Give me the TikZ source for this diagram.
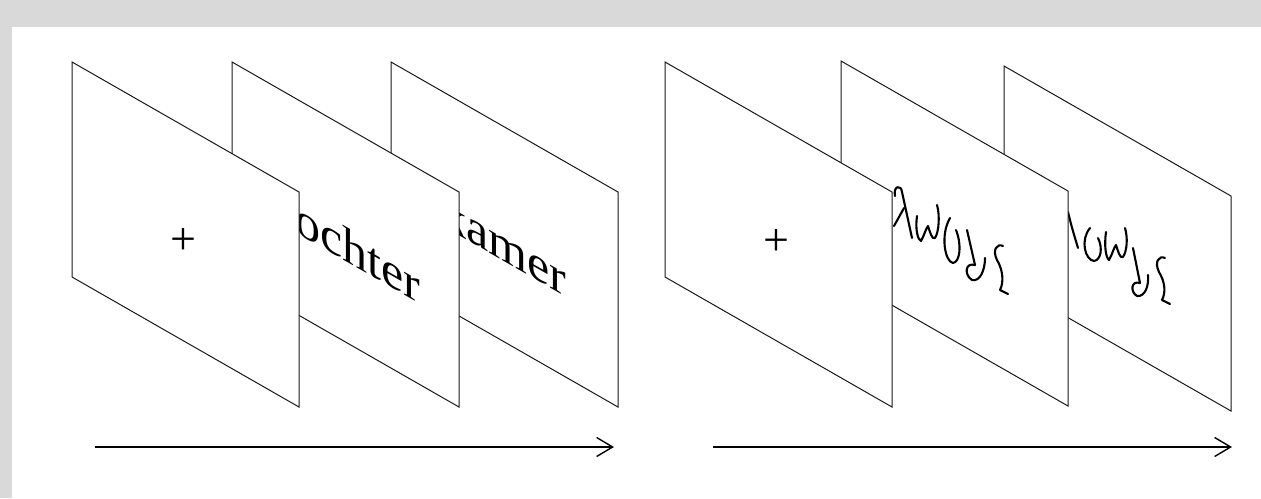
\documentclass[tikz,border=0pt]{standalone}
\usepackage{fontspec}
\setmainfont{Liberation Serif}
\usetikzlibrary{arrows.meta}
\newcommand\cardat[1]{\filldraw[card] (#1) -- ++(227,130) -- ++(0,215) -- ++(-227,-130) -- cycle;}
\begin{document}
\begin{tikzpicture}[x=1pt,y=-1pt,
  card/.style={draw=black!90,fill=white,line width=1pt,line join=miter},
  word/.style={font=\fontsize{50}{50}\selectfont,inner sep=0pt,yslant=-0.5727,transform shape},
  fix/.style={font=\fontsize{46}{46}\selectfont,inner sep=0pt},
  glyph/.style={line width=2.1pt,line cap=round,line join=round},
  arr/.style={line width=1.4pt,-{Straight Barb[length=16pt,width=19pt]}}]
\useasboundingbox (0,0) rectangle (1261,498);
\fill[black!15] (0,0) rectangle (1261,27);
\fill[black!15] (0,0) rectangle (12,498);
% left sequence
\cardat{391,62}
\node[word] (w3) at (504,244) {kamer};
\cardat{232,62}
\node[word] (w2) at (345.5,244) {dochter};
\cardat{72,62}
\node[fix] (p1) at (183,242) {+};
\coordinate (a1s) at (95,447);
\coordinate (a1e) at (614,447);
\draw[arr] (a1s) -- (a1e);
% right sequence
\cardat{1004,66}
\draw[glyph] (1068,212) .. controls (1072,228) .. (1078,248);
\draw[glyph] (1090,228) .. controls (1080,240) and (1085,260) .. (1094,261) .. controls (1101,260) and (1103,248) .. (1098,238);
\draw[glyph] (1106,232) .. controls (1104,246) and (1106,258) .. (1109,260) .. controls (1112,255) and (1114,247) .. (1116,245) .. controls (1118,251) and (1120,259) .. (1123,257) .. controls (1127,251) and (1128,238) .. (1125,228);
\draw[glyph] (1133,248) -- (1140,283);
\draw[glyph] (1140,283) .. controls (1131,280) and (1130,292) .. (1137,296) .. controls (1145,297) and (1149,286) .. (1148,275);
\draw[glyph] (1165,258) .. controls (1159,255) and (1154,262) .. (1159,272) .. controls (1165,282) and (1166,292) .. (1162,300) -- (1170,304);
\cardat{841,61}
\draw[glyph] (895,196) .. controls (893,186) and (901,184) .. (902,192) -- (912,238);
\draw[glyph] (904,208) -- (894,226);
\draw[glyph] (917,216) .. controls (915,230) and (918,240) .. (921,241) .. controls (924,236) and (926,228) .. (928,226) .. controls (930,232) and (932,240) .. (935,238) .. controls (939,232) and (940,215) .. (937,205);
\draw[glyph] (950,218) .. controls (940,235) and (945,262) .. (953,263) .. controls (960,262) and (962,245) .. (956,230);
\draw[glyph] (967,230) -- (975,265);
\draw[glyph] (975,265) .. controls (965,262) and (964,275) .. (972,280) .. controls (980,282) and (985,270) .. (985,258);
\draw[glyph] (1003,246) .. controls (997,243) and (992,250) .. (997,260) .. controls (1003,270) and (1004,282) .. (1000,290) -- (1008,294);
\cardat{665,62}
\node[fix] (p4) at (776,243) {+};
\coordinate (a2s) at (713,447);
\coordinate (a2e) at (1232,447);
\draw[arr] (a2s) -- (a2e);
\end{tikzpicture}
\end{document}
